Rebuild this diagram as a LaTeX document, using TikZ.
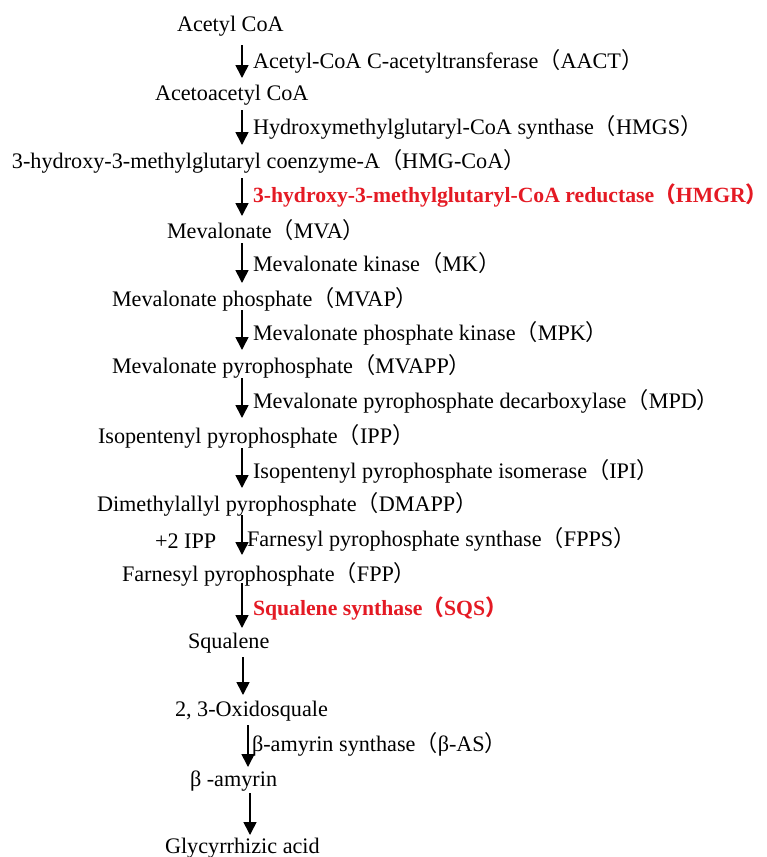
\documentclass[tikz,border=0pt]{standalone}
\usepackage{fontspec}
\setmainfont{Liberation Serif}
\newfontfamily\cjk{Noto Sans CJK SC}
\usetikzlibrary{arrows.meta,calc}
\newcommand{\lpar}{{\cjk （}}
\newcommand{\rpar}{{\cjk ）}}
\definecolor{hired}{RGB}{228,26,36}
\begin{document}
\begin{tikzpicture}[x=1pt,y=-1pt,
  txt/.style={anchor=west,inner sep=0pt,outer sep=0pt,text height=18pt,text depth=2pt,font=\fontsize{22.2}{26}\selectfont},
  key/.style={txt,font=\fontsize{21.7}{26}\selectfont\bfseries,text=hired},
  arr/.style={line width=1.6pt,-{Triangle[width=13pt,length=13pt]}}]
\useasboundingbox (0,0) rectangle (766,857);
\coordinate (ax) at (242,0);
\coordinate (axb) at (243,0);
\coordinate (axc) at (248,0);
\coordinate (axd) at (250,0);
% compounds
\node[txt] (n1) at (177,23) {Acetyl CoA};
\node[txt] (n2) at (155,92) {Acetoacetyl CoA};
\node[txt] (n3) at (12,160) {3-hydroxy-3-methylglutaryl coenzyme-A\lpar HMG-CoA\rpar};
\node[txt] (n4) at (167,230) {Mevalonate\lpar MVA\rpar};
\node[txt] (n5) at (112,298) {Mevalonate phosphate\lpar MVAP\rpar};
\node[txt] (n6) at (112,365) {Mevalonate pyrophosphate\lpar MVAPP\rpar};
\node[txt] (n7) at (98,435) {Isopentenyl pyrophosphate\lpar IPP\rpar};
\node[txt] (n8) at (97,503) {Dimethylallyl pyrophosphate\lpar DMAPP\rpar};
\node[txt] (n9) at (122,573) {Farnesyl pyrophosphate\lpar FPP\rpar};
\node[txt] (n10) at (188,640) {Squalene};
\node[txt] (n11) at (175,708) {2, 3-Oxidosquale};
\node[txt] (n12) at (190,778) {β -amyrin};
\node[txt] (n13) at (165,845) {Glycyrrhizic acid};
% enzymes
\node[txt] (e1) at (253,60) {Acetyl-CoA C-acetyltransferase\lpar AACT\rpar};
\node[txt] (e2) at (253,126) {Hydroxymethylglutaryl-CoA synthase\lpar HMGS\rpar};
\node[key] (e3) at (253,194) {3-hydroxy-3-methylglutaryl-CoA reductase\lpar HMGR\rpar};
\node[txt] (e4) at (253,263) {Mevalonate kinase\lpar MK\rpar};
\node[txt] (e5) at (253,332) {Mevalonate phosphate kinase\lpar MPK\rpar};
\node[txt] (e6) at (253,400) {Mevalonate pyrophosphate decarboxylase\lpar MPD\rpar};
\node[txt] (e7) at (253,470) {Isopentenyl pyrophosphate isomerase\lpar IPI\rpar};
\node[txt] (ipp) at (155,540) {+2 IPP};
\node[txt] (e8) at (247,538) {Farnesyl pyrophosphate synthase\lpar FPPS\rpar};
\node[key] (e9) at (253,607) {Squalene synthase\lpar SQS\rpar};
\node[txt] (e11) at (252,743) {β-amyrin synthase\lpar β-AS\rpar};
% arrows
\draw[arr] ($(n1 -| ax)+(0,22)$) -- ($(n2 -| ax)+(0,-14)$);
\draw[arr] ($(n2 -| ax)+(0,18)$) -- ($(n3 -| ax)+(0,-15)$);
\draw[arr] ($(n3 -| ax)+(0,18)$) -- ($(n4 -| ax)+(0,-14)$);
\draw[arr] ($(n4 -| ax)+(0,13)$) -- ($(n5 -| ax)+(0,-15)$);
\draw[arr] ($(n5 -| ax)+(0,12)$) -- ($(n6 -| ax)+(0,-15)$);
\draw[arr] ($(n6 -| ax)+(0,13)$) -- ($(n7 -| ax)+(0,-17)$);
\draw[arr] ($(n7 -| ax)+(0,13)$) -- ($(n8 -| ax)+(0,-15)$);
\draw[arr] ($(n8 -| ax)+(0,12)$) -- ($(n9 -| ax)+(0,-18)$);
\draw[arr] ($(n9 -| ax)+(0,10)$) -- ($(n10 -| ax)+(0,-12)$);
\draw[arr] ($(n10 -| axb)+(0,17)$) -- ($(n11 -| axb)+(0,-13)$);
\draw[arr] ($(n11 -| axc)+(0,17)$) -- ($(n12 -| axc)+(0,-11)$);
\draw[arr] ($(n12 -| axd)+(0,15)$) -- ($(n13 -| axd)+(0,-10)$);
\end{tikzpicture}
\end{document}
